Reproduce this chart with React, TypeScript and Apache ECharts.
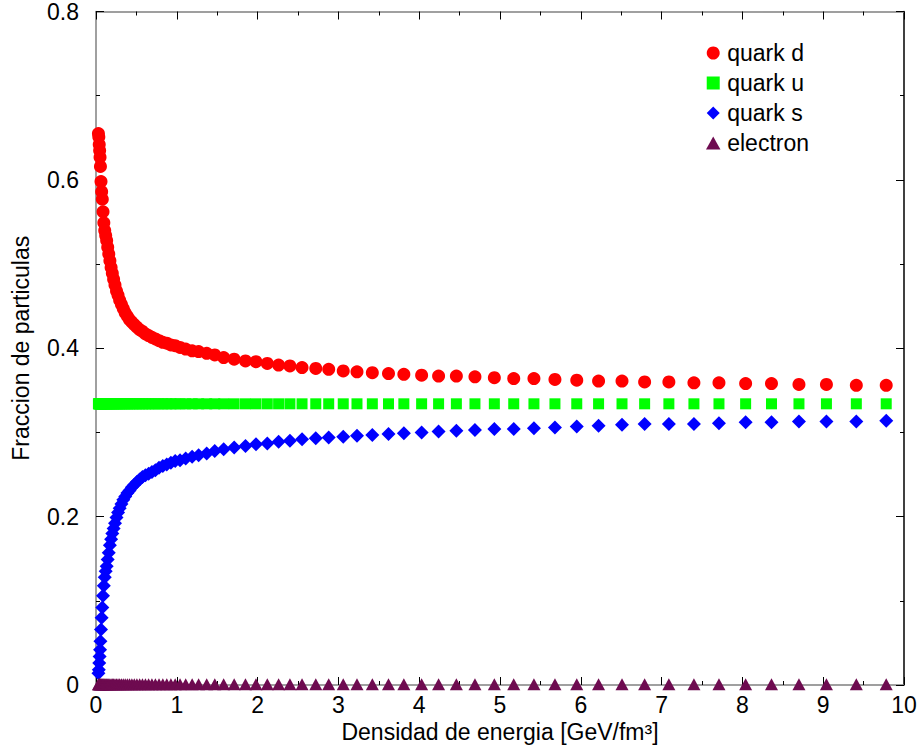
import React, { useEffect, useRef } from "react";
import * as echarts from "echarts";

const energyDensity = [
  0.03, 0.035, 0.04, 0.045, 0.05, 0.055, 0.062, 0.07, 0.078, 0.087,
  0.097, 0.108, 0.12, 0.132, 0.145, 0.158, 0.172, 0.187, 0.202, 0.218,
  0.235, 0.254, 0.273, 0.293, 0.315, 0.338, 0.362, 0.388, 0.415, 0.444,
  0.474, 0.506, 0.54, 0.575, 0.612, 0.651, 0.692, 0.735, 0.78, 0.827,
  0.876, 0.927, 0.98, 1.04, 1.11, 1.19, 1.27, 1.37, 1.47, 1.58,
  1.71, 1.85, 1.98, 2.12, 2.26, 2.4, 2.55, 2.72, 2.88, 3.06,
  3.23, 3.42, 3.62, 3.81, 4.03, 4.24, 4.46, 4.69, 4.93, 5.17,
  5.42, 5.68, 5.95, 6.22, 6.51, 6.79, 7.09, 7.4, 7.71, 8.04,
  8.36, 8.7, 9.04, 9.41, 9.78,
];

const quarkD = [
  0.655, 0.651, 0.642, 0.635, 0.627, 0.616, 0.598, 0.586, 0.577, 0.562,
  0.549, 0.54, 0.534, 0.528, 0.52, 0.512, 0.504, 0.496, 0.489, 0.482,
  0.475, 0.468, 0.463, 0.457, 0.452, 0.447, 0.442, 0.438, 0.434, 0.431,
  0.428, 0.425, 0.422, 0.42, 0.417, 0.415, 0.413, 0.411, 0.409, 0.407,
  0.406, 0.404, 0.403, 0.401, 0.399, 0.397, 0.396, 0.394, 0.392, 0.389,
  0.387, 0.385, 0.384, 0.382, 0.38, 0.379, 0.377, 0.376, 0.375, 0.373,
  0.372, 0.371, 0.37, 0.369, 0.368, 0.367, 0.367, 0.366, 0.365, 0.364,
  0.364, 0.363, 0.362, 0.361, 0.361, 0.36, 0.36, 0.359, 0.359, 0.358,
  0.358, 0.357, 0.357, 0.356, 0.356,
];

const quarkU = [
  0.334, 0.334, 0.334, 0.334, 0.334, 0.334, 0.334, 0.334, 0.334, 0.334,
  0.334, 0.334, 0.334, 0.334, 0.334, 0.334, 0.334, 0.334, 0.334, 0.334,
  0.334, 0.334, 0.334, 0.334, 0.334, 0.334, 0.334, 0.334, 0.334, 0.334,
  0.334, 0.334, 0.334, 0.334, 0.334, 0.334, 0.334, 0.334, 0.334, 0.334,
  0.334, 0.334, 0.334, 0.334, 0.334, 0.334, 0.334, 0.334, 0.334, 0.334,
  0.334, 0.334, 0.334, 0.334, 0.334, 0.334, 0.334, 0.334, 0.334, 0.334,
  0.334, 0.334, 0.334, 0.334, 0.334, 0.334, 0.334, 0.334, 0.334, 0.334,
  0.334, 0.334, 0.334, 0.334, 0.334, 0.334, 0.334, 0.334, 0.334, 0.334,
  0.334, 0.334, 0.334, 0.334, 0.334,
];

const quarkS = [
  0.014, 0.018, 0.026, 0.034, 0.042, 0.052, 0.066, 0.08, 0.092, 0.106,
  0.118, 0.128, 0.135, 0.141, 0.149, 0.157, 0.166, 0.173, 0.18, 0.186,
  0.192, 0.199, 0.205, 0.21, 0.215, 0.22, 0.224, 0.228, 0.231, 0.235,
  0.238, 0.241, 0.244, 0.247, 0.249, 0.251, 0.253, 0.255, 0.258, 0.26,
  0.262, 0.264, 0.266, 0.267, 0.269, 0.271, 0.273, 0.275, 0.278, 0.28,
  0.282, 0.284, 0.286, 0.287, 0.289, 0.29, 0.292, 0.293, 0.294, 0.295,
  0.296, 0.297, 0.298, 0.299, 0.3, 0.301, 0.302, 0.303, 0.304, 0.304,
  0.305, 0.306, 0.307, 0.308, 0.309, 0.31, 0.31, 0.31, 0.311, 0.312,
  0.312, 0.313, 0.313, 0.313, 0.314,
];

const electron = [
  0.001, 0.001, 0.001, 0.001, 0.001, 0.001, 0.001, 0.001, 0.001, 0.001,
  0.001, 0.001, 0.001, 0.001, 0.001, 0.001, 0.001, 0.001, 0.001, 0.001,
  0.001, 0.001, 0.001, 0.001, 0.001, 0.001, 0.001, 0.001, 0.001, 0.001,
  0.001, 0.001, 0.001, 0.001, 0.001, 0.001, 0.001, 0.001, 0.001, 0.001,
  0.001, 0.001, 0.001, 0.001, 0.001, 0.001, 0.001, 0.001, 0.001, 0.001,
  0.001, 0.001, 0.001, 0.001, 0.001, 0.001, 0.001, 0.001, 0.001, 0.001,
  0.001, 0.001, 0.001, 0.001, 0.001, 0.001, 0.001, 0.001, 0.001, 0.001,
  0.001, 0.001, 0.001, 0.001, 0.001, 0.001, 0.001, 0.001, 0.001, 0.001,
  0.001, 0.001, 0.001, 0.001, 0.001,
];

const seriesNames = ["quark d", "quark u", "quark s", "electron"];
const xAxisTitle = "Densidad de energia [GeV/fm³]";
const yAxisTitle = "Fraccion de particulas";

const FONT = "'Liberation Sans', Arial, Helvetica, sans-serif";

function pairs(ys: number[]) {
  return energyDensity.map((x, i) => [x, ys[i]]);
}

export default function App() {
  const ref = useRef<HTMLDivElement>(null);

  useEffect(() => {
    if (!ref.current) return;
    const chart = echarts.init(ref.current, null, { renderer: "svg" });

    const tickCommon = {
      axisTick: { show: true, inside: true, length: 8, lineStyle: { color: "#000", width: 1 } },
      minorTick: { show: true, splitNumber: 2, length: 4, lineStyle: { color: "#000", width: 1 } },
      splitLine: { show: false },
      minorSplitLine: { show: false },
    };

    chart.setOption({
      animation: false,
      backgroundColor: "#ffffff",
      textStyle: { fontFamily: FONT },
      grid: { left: 96, right: 16, top: 10, bottom: 71, containLabel: false },
      legend: {
        data: [
          { name: seriesNames[0], icon: "circle" },
          { name: seriesNames[1], icon: "path://M0,0H10V10H0Z" },
          { name: seriesNames[2], icon: "path://M5,0L10,5L5,10L0,5Z" },
          { name: seriesNames[3], icon: "path://M5,0L10,9H0Z" },
        ],
        orient: "vertical",
        left: 706,
        top: 41,
        padding: 0,
        itemWidth: 18,
        itemHeight: 13,
        itemGap: 6,
        symbolKeepAspect: true,
        textStyle: { fontSize: 23, lineHeight: 24, color: "#000", fontFamily: FONT },
      },
      xAxis: [
        {
          type: "value",
          position: "bottom",
          min: 0,
          max: 10,
          interval: 1,
          axisLine: { show: true, onZero: false, lineStyle: { color: "#808080", width: 1.5 } },
          axisLabel: { fontSize: 23, color: "#000", margin: 8, fontFamily: FONT },
          name: xAxisTitle,
          nameLocation: "middle",
          nameGap: 34,
          nameTextStyle: { fontSize: 23, color: "#000", fontFamily: FONT },
          ...tickCommon,
        },
        {
          type: "value",
          position: "top",
          min: 0,
          max: 10,
          interval: 1,
          axisLine: { show: true, onZero: false, lineStyle: { color: "#808080", width: 1.5 } },
          axisLabel: { show: false },
          ...tickCommon,
        },
      ],
      yAxis: [
        {
          type: "value",
          position: "left",
          min: 0,
          max: 0.8,
          interval: 0.2,
          axisLine: { show: true, onZero: false, lineStyle: { color: "#808080", width: 1.5 } },
          axisLabel: { fontSize: 23, color: "#000", margin: 17, fontFamily: FONT },
          name: yAxisTitle,
          nameLocation: "middle",
          nameGap: 64,
          nameTextStyle: { fontSize: 23, color: "#000", fontFamily: FONT },
          ...tickCommon,
        },
        {
          type: "value",
          position: "right",
          min: 0,
          max: 0.8,
          interval: 0.2,
          axisLine: { show: true, onZero: false, lineStyle: { color: "#000", width: 1.5 } },
          axisLabel: { show: false },
          ...tickCommon,
        },
      ],
      series: [
        {
          name: seriesNames[0],
          type: "scatter",
          symbol: "circle",
          symbolSize: 13,
          itemStyle: { color: "#ff0000", opacity: 1 },
          data: pairs(quarkD),
        },
        {
          name: seriesNames[1],
          type: "scatter",
          symbol: "rect",
          symbolSize: 11,
          itemStyle: { color: "#00ff00", opacity: 1 },
          data: pairs(quarkU),
        },
        {
          name: seriesNames[2],
          type: "scatter",
          symbol: "diamond",
          symbolSize: 14,
          itemStyle: { color: "#0000ff", opacity: 1 },
          data: pairs(quarkS),
        },
        {
          name: seriesNames[3],
          type: "scatter",
          symbol: "triangle",
          symbolSize: [13, 12],
          itemStyle: { color: "#6e0b50", opacity: 1 },
          data: pairs(electron),
        },
      ],
    });

    return () => {
      chart.dispose();
    };
  }, []);

  return (
    <div
      ref={ref}
      style={{ position: "absolute", left: 0, top: 0, width: 920, height: 756 }}
    />
  );
}
